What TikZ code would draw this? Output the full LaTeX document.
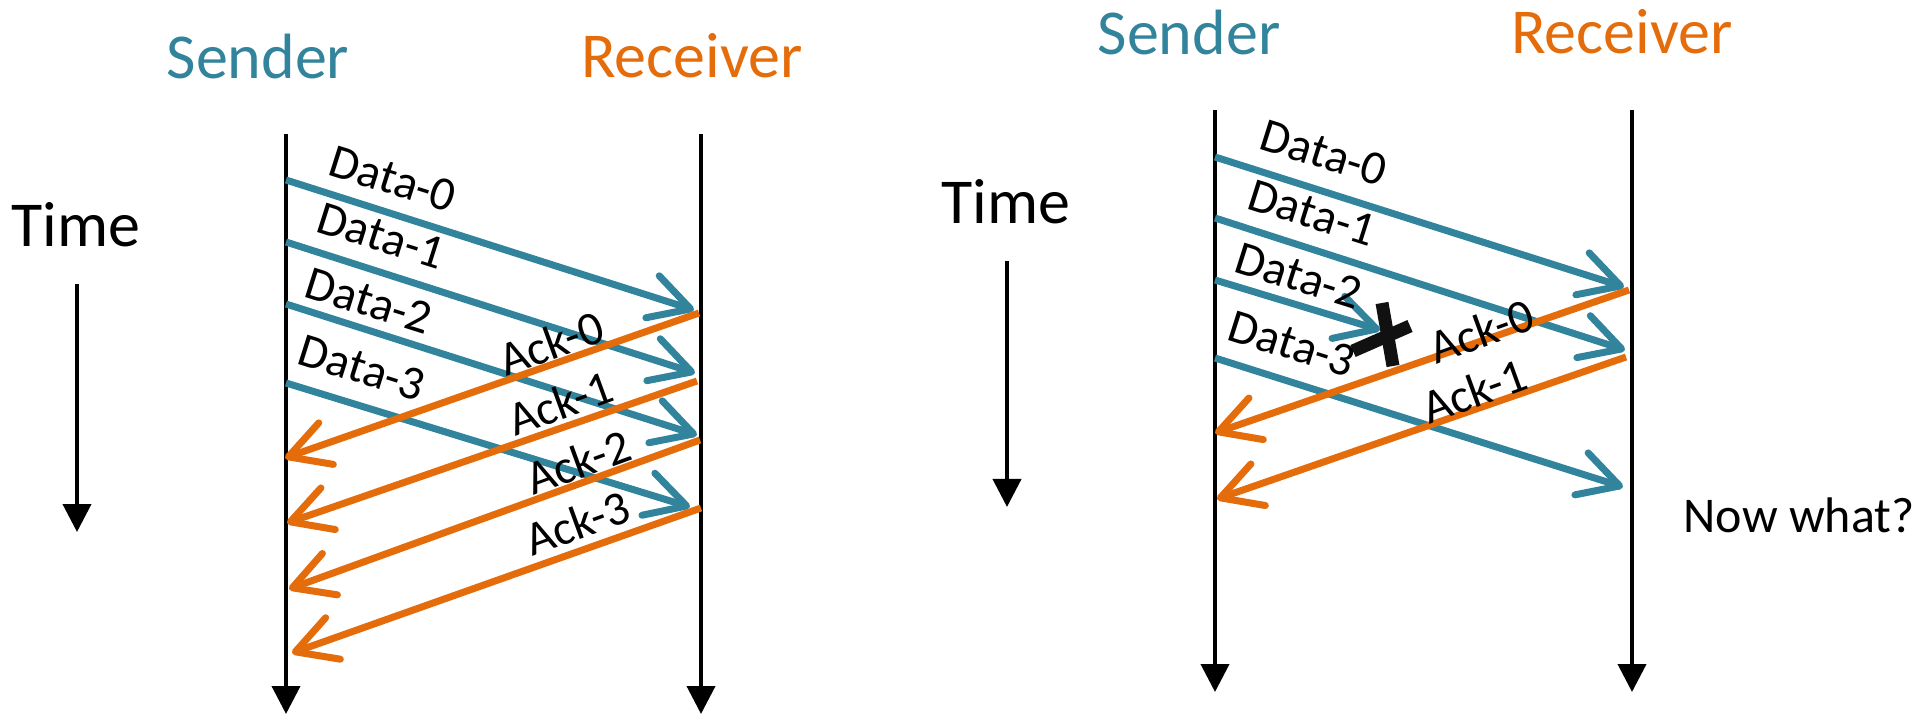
\documentclass[tikz,border=0pt]{standalone}
\usepackage{fontspec}
\setmainfont{Carlito}
\usetikzlibrary{arrows.meta}
\definecolor{teal}{HTML}{31849B}
\definecolor{orng}{HTML}{E46C0A}
\definecolor{xmark}{HTML}{111111}
\tikzset{
  title/.style={font=\fontsize{32}{38}\selectfont, inner sep=0pt, anchor=base},
  lbl/.style={font=\fontsize{24}{28}\selectfont, inner sep=0pt},
  lifeline/.style={draw=black, line width=2pt, -{Triangle[length=14pt,width=14pt]}},
  datarrow/.style={draw=teal, line width=3.5pt, -{Straight Barb[length=20pt,width=22pt,round]}},
  ackarrow/.style={draw=orng, line width=3.5pt, -{Straight Barb[length=20pt,width=22pt,round]}},
  crossline/.style={draw=xmark, line width=6.5pt}
}
\begin{document}
\begin{tikzpicture}[x=0.5pt,y=-0.5pt]
\useasboundingbox (0,0) rectangle (1931,715);
% ---------------- left panel ----------------
\node[title, text=teal] (lsend) at (258,79) {Sender};
\node[title, text=orng] (lrecv) at (692,78) {Receiver};
\node[title] (ltime) at (76,247) {Time};
\coordinate (ltA) at (77,284);
\coordinate (ltB) at (77,532);
\draw[lifeline] (ltA) -- (ltB);

\coordinate (lsT) at (286,134);
\coordinate (lsB) at (286,714);
\coordinate (lrT) at (701,134);
\coordinate (lrB) at (701,714);
\draw[lifeline] (lsT) -- (lsB);
\draw[lifeline] (lrT) -- (lrB);

\coordinate (ld0s) at (286,180);
\coordinate (ld0e) at (694,310);
\coordinate (ld1s) at (286,242);
\coordinate (ld1e) at (695,373);
\coordinate (ld2s) at (286,304);
\coordinate (ld2e) at (697,435);
\coordinate (ld3s) at (286,383);
\coordinate (ld3e) at (690,507);
\draw[datarrow] (ld0s) -- (ld0e);
\draw[datarrow] (ld1s) -- (ld1e);
\draw[datarrow] (ld2s) -- (ld2e);
\draw[datarrow] (ld3s) -- (ld3e);

\coordinate (la0s) at (699,313);
\coordinate (la0e) at (285,458);
\coordinate (la1s) at (697,381);
\coordinate (la1e) at (287,523);
\coordinate (la2s) at (700,440);
\coordinate (la2e) at (289,589);
\coordinate (la3s) at (701,508);
\coordinate (la3e) at (292,653);
\draw[ackarrow] (la0s) -- (la0e);
\draw[ackarrow] (la1s) -- (la1e);
\draw[ackarrow] (la2s) -- (la2e);
\draw[ackarrow] (la3s) -- (la3e);

\node[lbl, rotate=-17.5] (ldl0) at (393,179) {Data-0};
\node[lbl, rotate=-17.5] (ldl1) at (381,236) {Data-1};
\node[lbl, rotate=-17.5] (ldl2) at (369,301) {Data-2};
\node[lbl, rotate=-17.5] (ldl3) at (362,368) {Data-3};
\node[lbl, rotate=20] (lal0) at (551,343) {Ack-0};
\node[lbl, rotate=20] (lal1) at (560,403) {Ack-1};
\node[lbl, rotate=20] (lal2) at (578,462) {Ack-2};
\node[lbl, rotate=20] (lal3) at (577,523) {Ack-3};

% ---------------- right panel ----------------
\node[title, text=teal] (rsend) at (1189,55) {Sender};
\node[title, text=orng] (rrecv) at (1622,54) {Receiver};
\node[title] (rtime) at (1006,224) {Time};
\coordinate (rtA) at (1007,261);
\coordinate (rtB) at (1007,507);
\draw[lifeline] (rtA) -- (rtB);

\coordinate (rsT) at (1215,110);
\coordinate (rsB) at (1215,692);
\coordinate (rrT) at (1632,110);
\coordinate (rrB) at (1632,692);
\draw[lifeline] (rsT) -- (rsB);
\draw[lifeline] (rrT) -- (rrB);

\coordinate (rd0s) at (1215,157);
\coordinate (rd0e) at (1624,287);
\coordinate (rd1s) at (1215,218);
\coordinate (rd1e) at (1625,350);
\coordinate (rd2s) at (1215,280);
\coordinate (rd2e) at (1380,330);
\coordinate (rd3s) at (1215,358);
\coordinate (rd3e) at (1623,487);
\draw[datarrow] (rd0s) -- (rd0e);
\draw[datarrow] (rd1s) -- (rd1e);
\draw[datarrow] (rd2s) -- (rd2e);
\draw[datarrow] (rd3s) -- (rd3e);

\coordinate (ra0s) at (1629,290);
\coordinate (ra0e) at (1215,433);
\coordinate (ra1s) at (1626,357);
\coordinate (ra1e) at (1217,499);
\draw[ackarrow] (ra0s) -- (ra0e);
\draw[ackarrow] (ra1s) -- (ra1e);

\coordinate (xa) at (1382,303);
\coordinate (xb) at (1393,366);
\coordinate (xc) at (1353,351);
\coordinate (xd) at (1410,326);
\draw[crossline] (xa) -- (xb);
\draw[crossline] (xc) -- (xd);

\node[lbl, rotate=-17.5] (rdl0) at (1324,153) {Data-0};
\node[lbl, rotate=-17.5] (rdl1) at (1312,213) {Data-1};
\node[lbl, rotate=-17.5] (rdl2) at (1299,276) {Data-2};
\node[lbl, rotate=-17.5] (rdl3) at (1292,344) {Data-3};
\node[lbl, rotate=20] (ral0) at (1481,331) {Ack-0};
\node[lbl, rotate=20] (ral1) at (1474,391) {Ack-1};

\node[lbl, font=\fontsize{25}{30}\selectfont, anchor=base] (now) at (1799,532) {Now what?};
\end{tikzpicture}
\end{document}
